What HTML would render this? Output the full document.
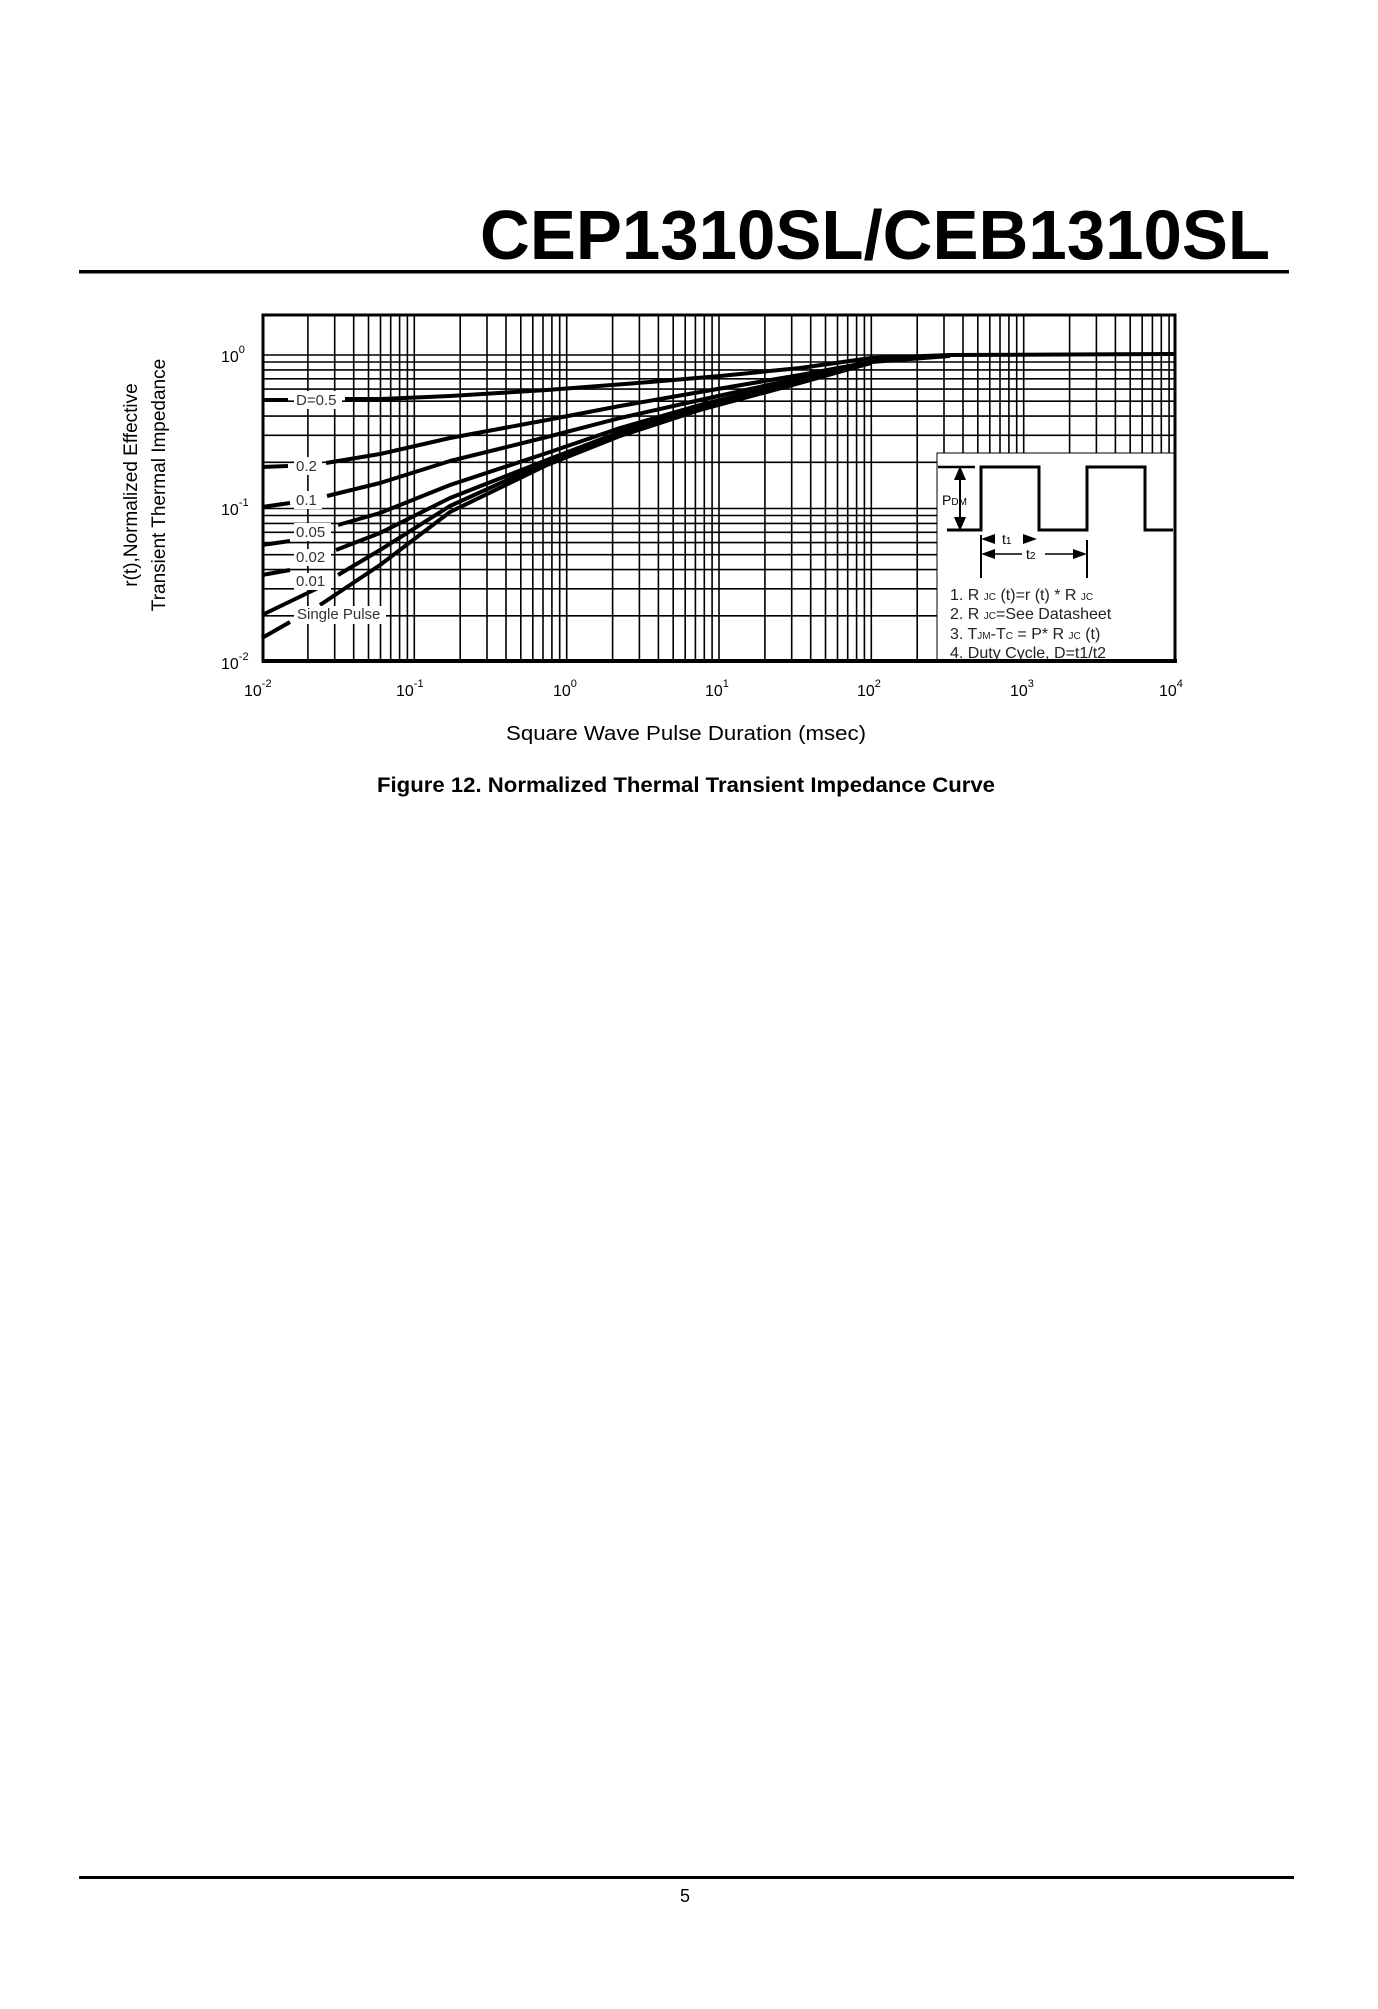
<!DOCTYPE html>
<html><head><meta charset="utf-8"><style>
html,body{margin:0;padding:0;background:#fff;}
svg{display:block;}
text{font-family:"Liberation Sans",sans-serif;}
</style></head><body>
<svg width="1378" height="2009" viewBox="0 0 1378 2009" xmlns="http://www.w3.org/2000/svg">
<rect width="1378" height="2009" fill="#fff"/>
<text x="1270" y="259" text-anchor="end" font-size="70" font-weight="bold" textLength="790" lengthAdjust="spacingAndGlyphs">CEP1310SL/CEB1310SL</text>
<rect x="79" y="270" width="1210" height="3.5" fill="#000"/>

<!-- grid -->
<g stroke="#000" stroke-width="1.6" fill="none">
<path d="M307.9 314V662M334.7 314V662M353.7 314V662M368.5 314V662M380.5 314V662M390.7 314V662M399.6 314V662M407.4 314V662M414.3 314V662
M460.2 314V662M487 314V662M506 314V662M520.8 314V662M532.8 314V662M543 314V662M551.9 314V662M559.7 314V662M566.7 314V662
M612.6 314V662M639.4 314V662M658.4 314V662M673.2 314V662M685.2 314V662M695.4 314V662M704.3 314V662M712.1 314V662M719 314V662
M764.9 314V662M791.7 314V662M810.7 314V662M825.5 314V662M837.5 314V662M847.7 314V662M856.6 314V662M864.4 314V662M871.3 314V662
M917.2 314V662M944 314V662M963 314V662M977.8 314V662M989.8 314V662M1000 314V662M1008.9 314V662M1016.7 314V662M1023.7 314V662
M1069.6 314V662M1096.4 314V662M1115.4 314V662M1130.2 314V662M1142.2 314V662M1152.4 314V662M1161.3 314V662M1169.1 314V662"/>
<path d="M262 615.8H1176M262 588.8H1176M262 569.6H1176M262 554.7H1176M262 542.6H1176M262 532.3H1176M262 523.4H1176M262 515.5H1176M262 508.5H1176
M262 462.3H1176M262 435.3H1176M262 416.1H1176M262 401.2H1176M262 389.1H1176M262 378.8H1176M262 369.9H1176M262 362H1176M262 355H1176"/>
</g>

<!-- inset -->
<rect x="937" y="453" width="239" height="209" fill="#fff" stroke="#000" stroke-width="1"/>
<polyline points="947,530 981,530 981,467 1039,467 1039,530 1087,530 1087,467 1145,467 1145,530 1173,530" fill="none" stroke="#000" stroke-width="3"/>
<line x1="938" y1="467" x2="975" y2="467" stroke="#000" stroke-width="2.5"/>
<line x1="960" y1="472" x2="960" y2="525" stroke="#000" stroke-width="2"/>
<polygon points="960,466 954,480 966,480" fill="#000"/>
<polygon points="960,531 954,517 966,517" fill="#000"/>
<text x="942" y="505" font-size="14">P<tspan font-size="10">DM</tspan></text>
<line x1="981" y1="535" x2="981" y2="578" stroke="#000" stroke-width="2"/>
<line x1="1087" y1="540" x2="1087" y2="578" stroke="#000" stroke-width="2"/>
<polygon points="981,539 995,534 995,544" fill="#000"/>
<polygon points="1037,539 1023,534 1023,544" fill="#000"/>
<text x="1002" y="544" font-size="14">t<tspan font-size="10">1</tspan></text>
<polygon points="981,554 995,549 995,559" fill="#000"/>
<polygon points="1087,554 1073,549 1073,559" fill="#000"/>
<line x1="995" y1="554" x2="1022" y2="554" stroke="#000" stroke-width="1.5"/>
<line x1="1045" y1="554" x2="1073" y2="554" stroke="#000" stroke-width="1.5"/>
<text x="1026" y="559" font-size="14">t<tspan font-size="10">2</tspan></text>
<g font-size="16" fill="#222">
<text x="950" y="600">1. R <tspan font-size="10">  JC</tspan> (t)=r (t) * R <tspan font-size="10">  JC</tspan></text>
<text x="950" y="619">2. R <tspan font-size="10">  JC</tspan>=See Datasheet</text>
<text x="950" y="639">3. T<tspan font-size="10">JM</tspan>-T<tspan font-size="10">C</tspan> = P* R <tspan font-size="10">  JC</tspan> (t)</text>
<text x="950" y="658">4. Duty Cycle, D=t1/t2</text>
</g>

<!-- curves -->
<g fill="none" stroke="#000" stroke-width="4" stroke-linejoin="round" stroke-linecap="butt">
<polyline points="262,400 288,400"/>
<polyline points="345,399 380,399 450,396 547,390 650,382 720,376 800,368 871,358 950,355 1176,354"/>
<polyline points="262,467 288,466"/>
<polyline points="326,463 380,454 450,438 547,420 620,406 700,392 800,375 871,362 950,356"/>
<polyline points="262,507 290,503"/>
<polyline points="327,496 380,483 450,461 547,437 620,418 700,400 800,378 871,362"/>
<polyline points="262,545 290,541"/>
<polyline points="338,525 380,513 450,485 547,453 620,428 700,405 800,380 871,362"/>
<polyline points="262,575 290,570"/>
<polyline points="336,550 380,533 450,498 547,460 620,432 700,408 800,381 871,363"/>
<polyline points="262,615 318,588"/>
<polyline points="338,575 380,550 450,506 547,462 620,434 700,409 800,382 871,363"/>
<polyline points="262,638 290,622"/>
<polyline points="320,605 380,565 450,512 547,465 620,436 700,410 800,383 871,363"/>
</g>
<g fill="#fff">
<rect x="294" y="391" width="48" height="18"/>
<rect x="294" y="457" width="28" height="18"/>
<rect x="294" y="491" width="28" height="18"/>
<rect x="294" y="523" width="37" height="18"/>
<rect x="294" y="549" width="37" height="17"/>
<rect x="294" y="573" width="37" height="17"/>
<rect x="294" y="606" width="92" height="18"/>
</g>
<g font-size="15" fill="#333">
<text x="296" y="405">D=0.5</text>
<text x="296" y="471">0.2</text>
<text x="296" y="505">0.1</text>
<text x="296" y="537">0.05</text>
<text x="296" y="562">0.02</text>
<text x="296" y="586">0.01</text>
<text x="297" y="619">Single Pulse</text>
</g>

<!-- frame -->
<rect x="263" y="315" width="912" height="346" fill="none" stroke="#000" stroke-width="3"/>
<line x1="262" y1="661" x2="1177" y2="661" stroke="#000" stroke-width="4"/>

<!-- tick labels -->
<g font-size="16">
<text x="221" y="362">10<tspan font-size="11" dy="-9">0</tspan></text>
<text x="221" y="515">10<tspan font-size="11" dy="-9">-1</tspan></text>
<text x="221" y="669">10<tspan font-size="11" dy="-9">-2</tspan></text>
</g>
<g font-size="16">
<text x="244" y="696">10<tspan font-size="11" dy="-9">-2</tspan></text>
<text x="396" y="696">10<tspan font-size="11" dy="-9">-1</tspan></text>
<text x="553" y="696">10<tspan font-size="11" dy="-9">0</tspan></text>
<text x="705" y="696">10<tspan font-size="11" dy="-9">1</tspan></text>
<text x="857" y="696">10<tspan font-size="11" dy="-9">2</tspan></text>
<text x="1010" y="696">10<tspan font-size="11" dy="-9">3</tspan></text>
<text x="1159" y="696">10<tspan font-size="11" dy="-9">4</tspan></text>
</g>
<text x="686" y="740" text-anchor="middle" font-size="20" textLength="360" lengthAdjust="spacingAndGlyphs">Square Wave Pulse Duration (msec)</text>
<g font-size="19" text-anchor="middle">
<text transform="translate(137,485) rotate(-90)">r(t),Normalized Effective</text>
<text transform="translate(165,485) rotate(-90)">Transient Thermal Impedance</text>
</g>
<text x="686" y="792" text-anchor="middle" font-size="21" font-weight="bold" textLength="618" lengthAdjust="spacingAndGlyphs">Figure 12. Normalized Thermal Transient Impedance Curve</text>

<rect x="79" y="1876" width="1215" height="3" fill="#000"/>
<text x="685" y="1902" text-anchor="middle" font-size="18">5</text>
</svg>
</body></html>
